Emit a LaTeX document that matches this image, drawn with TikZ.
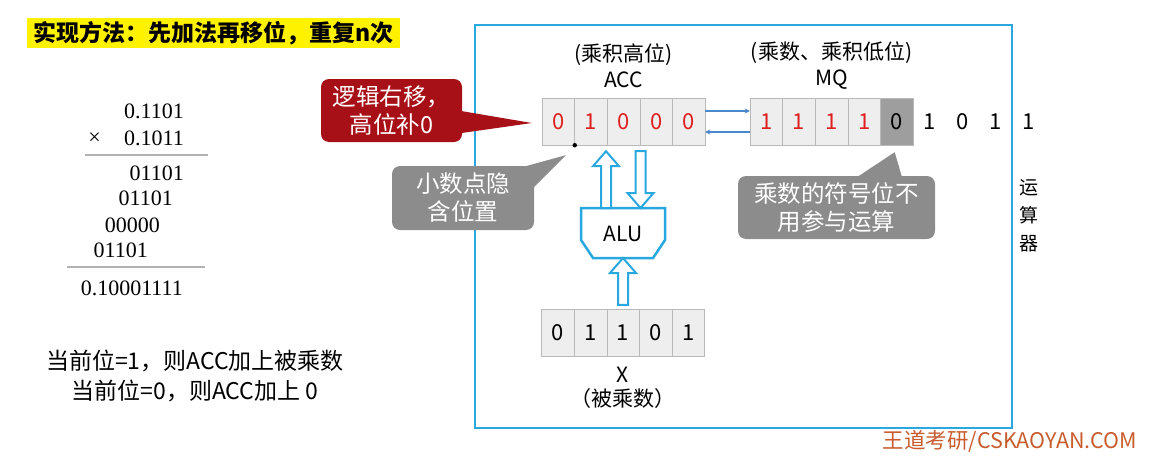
\documentclass[tikz,border=0pt]{standalone}
\usepackage{fontspec}
\setmainfont{Noto Sans CJK SC}
\newfontfamily\serif{Liberation Serif}
\usetikzlibrary{arrows.meta,positioning,calc}
\definecolor{frameblue}{RGB}{41,168,224}
\definecolor{bitred}{RGB}{222,32,32}
\definecolor{tipred}{RGB}{168,16,24}
\definecolor{tipgray}{RGB}{140,140,140}
\definecolor{cellgray}{RGB}{238,238,238}
\definecolor{signgray}{RGB}{158,158,158}
\definecolor{linkblue}{RGB}{74,136,204}
\definecolor{markorange}{RGB}{200,92,46}
\newcommand\fatarrow[2]{\draw[hollow] let \p1=(#1),\p2=(#2),\n1={(\y2-\y1)/abs(\y2-\y1)} in (\x1-5pt,\y1) -- (\x1-5pt,\y2-\n1*15pt) -- (\x1-13pt,\y2-\n1*15pt) -- (\x1,\y2) -- (\x1+13pt,\y2-\n1*15pt) -- (\x1+5pt,\y2-\n1*15pt) -- (\x1+5pt,\y1) -- cycle;}
\begin{document}
\begin{tikzpicture}[x=1pt,y=-1pt,every node/.style={inner sep=0pt},cell/.style={draw=gray!55,fill=cellgray,minimum width=32.6,minimum height=47,font=\fontsize{22}{22}\selectfont},bit/.style={font=\fontsize{22}{22}\selectfont},lbl/.style={font=\fontsize{21}{21}\selectfont},sum/.style={anchor=east,font=\serif\fontsize{22}{22}\selectfont},rule/.style={gray!60,line width=1.8pt},hollow/.style={draw=frameblue,fill=white,line width=2pt},link/.style={-{Stealth[length=5pt,width=5pt]},linkblue,line width=1.2pt},tipbox/.style={rounded corners=8pt,minimum height=63,text=white,align=center,font=\fontsize{23.5}{28}\selectfont}]
\useasboundingbox (0,0) rectangle (1152,458);
\node[fill=yellow,minimum width=373,minimum height=30,font=\bfseries\fontsize{23}{23}\selectfont] (title) at (213.5,33) {实现方法：先加法再移位，重复n次};
\node[sum] (m1) at (184,111) {0.1101};\node[sum] (times) at (101,139) {×};\node[sum] (m2) at (184,138) {0.1011};
\draw[rule] (85,155) -- (208,155);
\node[sum] (p1) at (184,173) {01101};\node[sum] (p2) at (173,198) {01101};\node[sum] (p3) at (160,225) {00000};\node[sum] (p4) at (148,250) {01101};
\draw[rule] (67,267) -- (205,267);
\node[sum] (res) at (183,288) {0.10001111};
\node[align=center,font=\fontsize{23}{30}\selectfont] (hint) at (195,376) {当前位=1，则ACC加上被乘数\\当前位=0，则ACC加上 0};
\draw[frameblue,line width=2.5pt] (475,25) rectangle (1012,428);
\foreach \d [count=\i] in {0,1,0,0,0} \node[cell,text=bitred] (acc\i) at ({558.3+32.6*(\i-1)},121.5) {\d};
\foreach \d [count=\i] in {1,1,1,1} \node[cell,text=bitred] (mq\i) at ({766.3+32.6*(\i-1)},121.5) {\d};
\node[cell,fill=signgray] (mq5) at (896.7,121.5) {0};
\foreach \d [count=\i] in {1,0,1,1} \node[bit] (tail\i) at ({896.7+33*\i},121.5) {\d};
\foreach \d [count=\i] in {0,1,1,0,1} \node[cell] (x\i) at ({557.8+32.6*(\i-1)},332.5) {\d};
\node[lbl] (acchint) at (623.5,55) {(乘积高位)};\node[lbl] (accname) at (623.5,80) {ACC};
\node[lbl] (mqhint) at (831.5,53) {(乘数、乘积低位)};\node[lbl] (mqname) at (831.5,80) {MQ};
\node[lbl] (xname) at (623,375) {X};\node[lbl] (xhint) at (623,399) {（被乘数）};
\node[lbl,align=center,font=\fontsize{19}{28}\selectfont] (unit) at (1029,216) {运\\算\\器};
\draw[link] ([yshift=10.5pt]acc5.east) -- ([yshift=10.5pt]mq1.west);
\draw[link] ([yshift=-10.5pt]mq1.west) -- ([yshift=-10.5pt]acc5.east);
\coordinate (alutop) at (623,208);\coordinate (alubot) at (623,258);
\draw[hollow,line width=2.5pt] (581,208) -- (665,208) -- (665,240) -- (653,258) -- (593,258) -- (581,240) -- cycle;
\node[lbl] (alu) at (623,234) {ALU};
\fatarrow{$(alutop)+(-17,0)$}{$(acc3.south)+(-17,6)$}
\fatarrow{$(acc3.south)+(17,6)$}{$(alutop)+(17,0)$}
\fatarrow{$(x3.north)+(0,-4)$}{alubot}
\fill (acc1.south east) circle (2.2);
\node[tipbox,fill=tipred,minimum width=141] (shift) at (391.5,110.5) {逻辑右移，\\高位补0};
\fill[tipred] ($(shift.east)+(-4,0)$) -- ($(acc1.west)+(-10,1.5)$) -- ($(shift.east)+(-4,23)$) -- cycle;
\node[tipbox,fill=tipgray,minimum width=142,minimum height=64] (point) at (463,198) {小数点隐\\含位置};
\fill[tipgray] ($(point.north east)+(-18,3)$) -- ($(acc1.south east)+(-9,10)$) -- ($(point.north east)+(-3,24)$) -- cycle;
\node[tipbox,fill=tipgray,minimum width=197] (sign) at (836.5,207.5) {乘数的符号位不\\用参与运算};
\fill[tipgray] ($(sign.north)+(18,3)$) -- ($(mq5.south)+(-2,7)$) -- ($(sign.north)+(66,3)$) -- cycle;
\node[text=markorange,font=\fontsize{21.5}{21.5}\selectfont] (mark) at (1010,441) {王道考研/CSKAOYAN.COM};
\end{tikzpicture}
\end{document}
